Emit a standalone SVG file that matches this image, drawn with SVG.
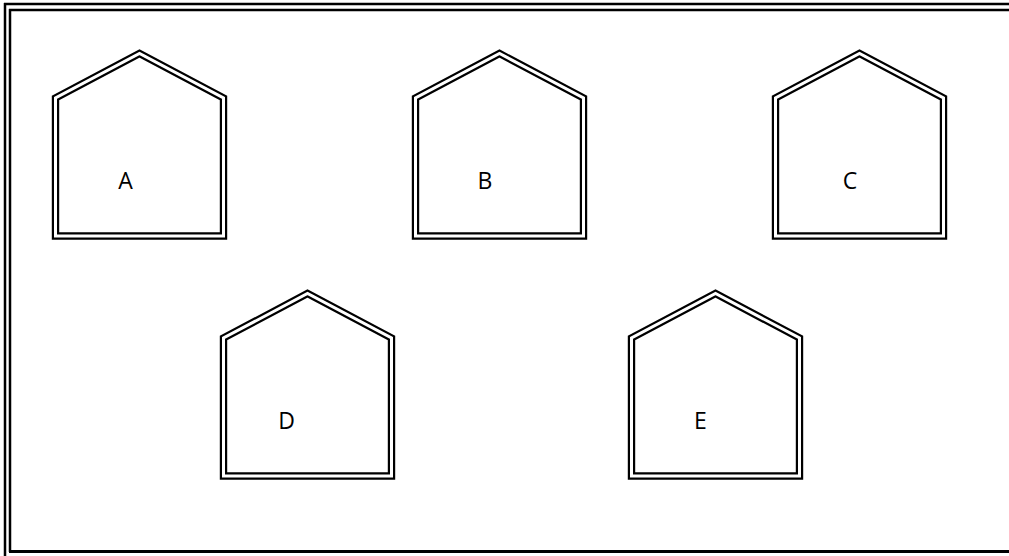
<svg xmlns="http://www.w3.org/2000/svg" xmlns:xlink="http://www.w3.org/1999/xlink" width="1009" height="556" viewBox="0 0 1009 556">
<style>
.frame{stroke:#000;stroke-width:2.5;fill:none}
.hb{fill:#fff;stroke:#000;stroke-width:7.4;stroke-linejoin:miter;stroke-miterlimit:10}
.hw{fill:none;stroke:#fff;stroke-width:3;stroke-linejoin:miter;stroke-miterlimit:10}
.lbl{font-family:"Open Sans","Liberation Sans",sans-serif;font-size:23px;fill:#000;text-anchor:middle}
</style>
<defs>
<path id="house" d="M55.5,236 L55.5,98 L139.5,53.5 L223.5,98 L223.5,236 Z"/>
</defs>
<rect width="1009" height="556" fill="#fff"/>
<g id="frame">
<line class="frame" x1="4" y1="4" x2="1009" y2="4"/>
<line class="frame" x1="5" y1="3" x2="5" y2="556"/>
<line class="frame" x1="9" y1="10" x2="1009" y2="10"/>
<line class="frame" x1="10" y1="9" x2="10" y2="552"/>
<line class="frame" style="stroke-width:3" x1="9" y1="551.5" x2="1009" y2="551.5"/>
</g>
<g id="connectors"></g>
<g id="A">
<use xlink:href="#house" class="hb"/><use xlink:href="#house" class="hw"/>
<text class="lbl" x="125.5" y="189">A</text>
</g>
<g id="B" transform="translate(360,0)">
<use xlink:href="#house" class="hb"/><use xlink:href="#house" class="hw"/>
<text class="lbl" x="125" y="189">B</text>
</g>
<g id="C" transform="translate(720,0)">
<use xlink:href="#house" class="hb"/><use xlink:href="#house" class="hw"/>
<text class="lbl" x="130" y="189">C</text>
</g>
<g id="D" transform="translate(168,240)">
<use xlink:href="#house" class="hb"/><use xlink:href="#house" class="hw"/>
<text class="lbl" x="118.5" y="189">D</text>
</g>
<g id="E" transform="translate(576,240)">
<use xlink:href="#house" class="hb"/><use xlink:href="#house" class="hw"/>
<text class="lbl" x="124.5" y="189">E</text>
</g>
</svg>
